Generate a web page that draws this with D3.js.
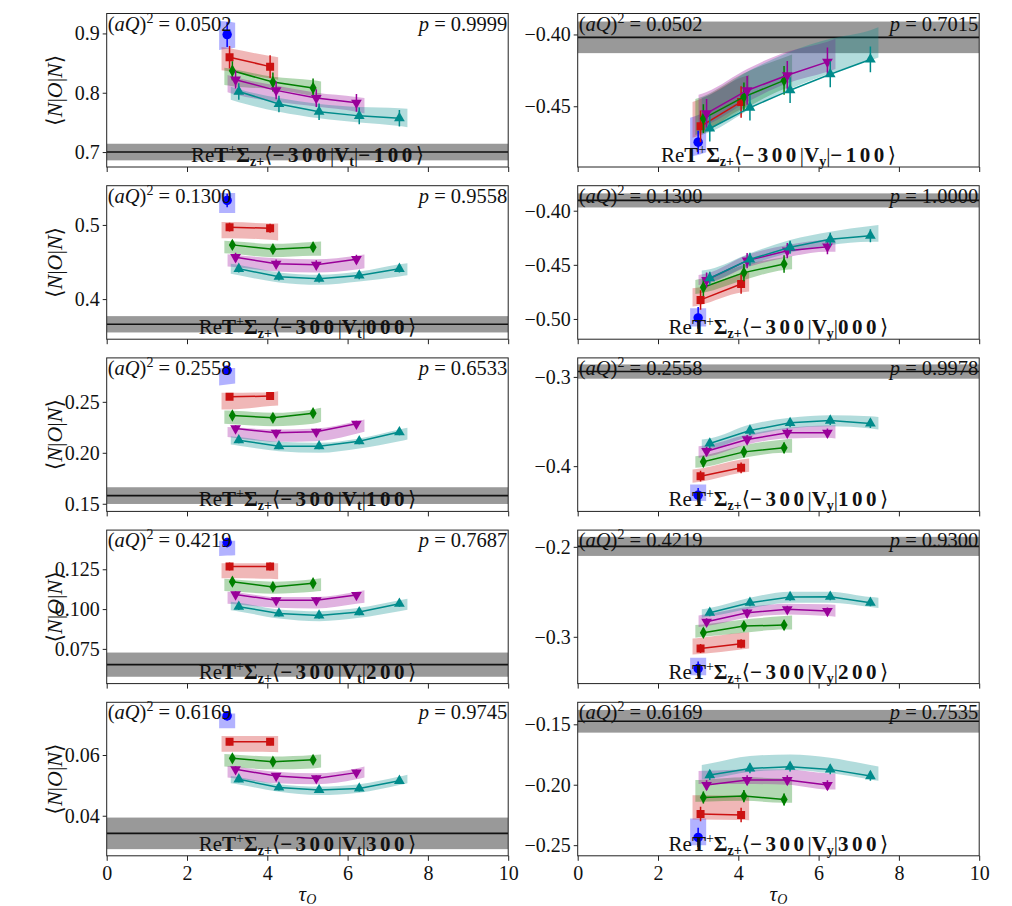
<!DOCTYPE html>
<html lang="en">
<head>
<meta charset="UTF-8">
<title>Matrix element fits</title>
<script src="https://cdn.jsdelivr.net/npm/d3@7"></script>
<style>
  body { margin: 0; background: #fff; }
  svg text { font-family: "Liberation Serif", "DejaVu Serif", serif; fill: #111; white-space: pre; }
</style>
</head>
<body>
<svg id="chart" width="1012" height="906"></svg>
<script>
// panels go row by row: left column is V_t, right column is V_y
const aQ2      = ['0.0502', '0.1300', '0.2558', '0.4219', '0.6169'];
const sinkMom  = ['\u2212100', '000', '100', '200', '300'];
const current  = ['t', 'y'];
const pValues  = ['0.9999', '0.7015', '0.9558', '1.0000', '0.6533', '0.9978', '0.7687', '0.9300', '0.9745', '0.7535'];

const yDomains = [[0.6748, 0.9336], [-0.4923, -0.3854], [0.3459, 0.5529], [-0.5187, -0.3769], [0.1425, 0.2931],
                  [-0.4507, -0.2787], [0.0532, 0.1496], [-0.352, -0.1814], [0.02681, 0.07736], [-0.2588, -0.1318]];
const yTicks   = [[0.7, 0.8, 0.9], [-0.45, -0.40], [0.4, 0.5], [-0.50, -0.45, -0.40], [0.15, 0.20, 0.25],
                  [-0.4, -0.3], [0.075, 0.100, 0.125], [-0.3, -0.2], [0.04, 0.06], [-0.25, -0.20, -0.15]];
const yFormats = ['.1f', '.2f', '.1f', '.2f', '.2f', '.1f', '.3f', '.1f', '.2f', '.2f'];
const xTicks   = [0, 2, 4, 6, 8, 10];

const refValue = [0.700, -0.402, 0.366, -0.3905, 0.158, -0.294, 0.0651, -0.1995, 0.0342, -0.1475];
const refErr   = [0.014, 0.011, 0.011, 0.0065, 0.0082, 0.008, 0.0076, 0.0106, 0.0052, 0.0094];

const tauBlue   = [3.0];
const tauRed    = [3.06, 4.07];
const tauGreen  = [3.13, 4.14, 5.14];
const tauPurple = [3.21, 4.22, 5.22, 6.22];
const tauTeal   = [3.29, 4.29, 5.29, 6.29, 7.29];

const blueY   = [[0.898], [-0.475], [0.533], [-0.499], [0.281], [-0.4325], [0.1418], [-0.3353], [0.0729], [-0.2436]];
const blueErr = [0.021, 0.008, 0.009, 0.010, 0.004, 0.008, 0.003, 0.008, 0.0015, 0.008];
const blueLo  = [[0.872, 0.874, 0.876], [-0.485, -0.484, -0.482], [0.516, 0.516, 0.516], [-0.507, -0.507, -0.507],
                 [0.266, 0.267, 0.268], [-0.439, -0.439, -0.439], [0.1334, 0.1336, 0.1338], [-0.3428, -0.3428, -0.3428],
                 [0.0688, 0.0688, 0.0688], [-0.250, -0.250, -0.250]];
const blueHi  = [[0.921, 0.920, 0.918], [-0.458, -0.456, -0.454], [0.543, 0.543, 0.543], [-0.490, -0.490, -0.490],
                 [0.2833, 0.2833, 0.2833], [-0.4205, -0.4205, -0.4205], [0.1429, 0.1429, 0.1429], [-0.3234, -0.3234, -0.3234],
                 [0.0737, 0.0737, 0.0737], [-0.228, -0.228, -0.228]];

const redY   = [[0.860, 0.844], [-0.464, -0.447], [0.497, 0.4955], [-0.4824, -0.4677], [0.2549, 0.2556],
                [-0.4112, -0.4019], [0.1267, 0.1267], [-0.313, -0.3078], [0.0644, 0.0644], [-0.2243, -0.2251]];
const redErr = [0.019, 0.011, 0.006, 0.009, 0.003, 0.006, 0.0025, 0.005, 0.0012, 0.006];
const redLo  = [[0.838, 0.836, 0.824, 0.822], [-0.472, -0.470, -0.452, -0.450], [0.482, 0.482, 0.480, 0.479],
                [-0.4886, -0.487, -0.4756, -0.4747], [0.2425, 0.2425, 0.2458, 0.2464], [-0.4187, -0.4176, -0.4075, -0.4063],
                [0.1193, 0.1193, 0.1190, 0.1188], [-0.3197, -0.319, -0.3141, -0.3130], [0.0611, 0.0611, 0.0610, 0.0609],
                [-0.2287, -0.2288, -0.2292, -0.2293]];
const redHi  = [[0.877, 0.875, 0.862, 0.860], [-0.447, -0.445, -0.430, -0.428], [0.504, 0.504, 0.502, 0.502],
                [-0.4716, -0.4707, -0.4578, -0.4563], [0.2588, 0.2588, 0.2595, 0.2605], [-0.4037, -0.4026, -0.3925, -0.3914],
                [0.1288, 0.1288, 0.1288, 0.1288], [-0.3019, -0.3010, -0.2955, -0.2948], [0.0663, 0.0663, 0.0663, 0.0663],
                [-0.2086, -0.2087, -0.2092, -0.2094]];

const greenY   = [[0.837, 0.818, 0.808], [-0.4586, -0.4435, -0.432], [0.4731, 0.4673, 0.470], [-0.4707, -0.4572, -0.4492],
                  [0.2366, 0.2343, 0.2389], [-0.3951, -0.3840, -0.3795], [0.1172, 0.1139, 0.1162], [-0.2955, -0.2881, -0.287],
                  [0.0589, 0.0578, 0.0584], [-0.2105, -0.2094, -0.2122]];
const greenErr = [0.016, 0.010, 0.006, 0.008, 0.003, 0.006, 0.002, 0.005, 0.0012, 0.005];
const greenLo  = [[0.813, 0.811, 0.806, 0.794, 0.791], [-0.470, -0.468, -0.452, -0.438, -0.436],
                  [0.4619, 0.461, 0.4565, 0.4583, 0.4583], [-0.4769, -0.4757, -0.464, -0.4547, -0.4541],
                  [0.2284, 0.2280, 0.2261, 0.2284, 0.2304], [-0.4019, -0.401, -0.3907, -0.3851, -0.3851],
                  [0.1113, 0.1110, 0.1097, 0.1109, 0.1113], [-0.3011, -0.3000, -0.2955, -0.2918, -0.2918],
                  [0.0562, 0.0560, 0.0553, 0.0556, 0.0559], [-0.2141, -0.2140, -0.2133, -0.2149, -0.2149]];
const greenHi  = [[0.842, 0.840, 0.827, 0.821, 0.819], [-0.445, -0.443, -0.427, -0.416, -0.414],
                  [0.4785, 0.478, 0.4745, 0.4770, 0.4776], [-0.464, -0.4625, -0.4501, -0.443, -0.4418],
                  [0.2415, 0.2413, 0.2392, 0.2425, 0.2441], [-0.3888, -0.3878, -0.3765, -0.3701, -0.3694],
                  [0.1191, 0.1188, 0.1172, 0.1187, 0.1193], [-0.287, -0.2862, -0.2807, -0.277, -0.2763],
                  [0.0603, 0.0602, 0.0595, 0.0600, 0.0602], [-0.1961, -0.1958, -0.1939, -0.1948, -0.1950]];

const purpleY   = [[0.822, 0.804, 0.791, 0.783], [-0.455, -0.439, -0.4284, -0.4191], [0.4565, 0.4475, 0.4462, 0.4538],
                   [-0.464, -0.4461, -0.4369, -0.4332], [0.2239, 0.2196, 0.2206, 0.2284], [-0.3832, -0.3701, -0.3627, -0.3627],
                   [0.1092, 0.1055, 0.1055, 0.1088], [-0.2833, -0.2732, -0.2695, -0.2714], [0.0553, 0.0531, 0.0523, 0.0542],
                   [-0.2003, -0.1961, -0.1961, -0.2003]];
const purpleErr = [0.015, 0.010, 0.006, 0.007, 0.003, 0.005, 0.002, 0.004, 0.001, 0.004];
const purpleLo  = [[0.801, 0.797, 0.785, 0.777, 0.768, 0.765], [-0.465, -0.463, -0.447, -0.434, -0.426, -0.424],
                   [0.4439, 0.4430, 0.4372, 0.4359, 0.4400, 0.4417], [-0.4686, -0.4675, -0.4523, -0.443, -0.4378, -0.4378],
                   [0.2154, 0.2145, 0.2108, 0.2114, 0.2186, 0.2206], [-0.3907, -0.3895, -0.3757, -0.369, -0.3683, -0.3690],
                   [0.1034, 0.1030, 0.1008, 0.1004, 0.1034, 0.1040], [-0.2892, -0.2880, -0.2788, -0.2751, -0.277, -0.2777],
                   [0.0526, 0.0523, 0.0507, 0.0504, 0.0520, 0.0526], [-0.1994, -0.1994, -0.1994, -0.2000, -0.2039, -0.2039]];
const purpleHi  = [[0.830, 0.826, 0.812, 0.800, 0.793, 0.791], [-0.442, -0.440, -0.424, -0.412, -0.405, -0.403],
                   [0.4606, 0.4595, 0.4552, 0.4538, 0.4585, 0.4601], [-0.4593, -0.458, -0.4409, -0.4317, -0.4264, -0.4255],
                   [0.2252, 0.2248, 0.2229, 0.2239, 0.2310, 0.2327], [-0.3776, -0.3765, -0.3646, -0.3571, -0.3545, -0.3542],
                   [0.1109, 0.1106, 0.1076, 0.1076, 0.1109, 0.1118], [-0.2762, -0.2750, -0.2669, -0.2632, -0.2639, -0.2645],
                   [0.0564, 0.0561, 0.0545, 0.0540, 0.0556, 0.0562], [-0.1887, -0.1885, -0.1873, -0.1873, -0.1906, -0.1910]];

const tealY   = [[0.802, 0.781, 0.768, 0.761, 0.757], [-0.4655, -0.4509, -0.4388, -0.4277, -0.4174],
                 [0.4408, 0.4301, 0.4274, 0.4318, 0.4408], [-0.4624, -0.4449, -0.4338, -0.4264, -0.4231],
                 [0.2124, 0.2065, 0.2065, 0.2114, 0.2203], [-0.3746, -0.3601, -0.3515, -0.3489, -0.3522],
                 [0.1015, 0.0973, 0.096, 0.0981, 0.1034], [-0.2732, -0.2621, -0.2558, -0.2554, -0.2621],
                 [0.052, 0.0493, 0.0485, 0.049, 0.0515], [-0.192, -0.1865, -0.1851, -0.1873, -0.1928]];
const tealErr = [0.014, 0.009, 0.005, 0.006, 0.003, 0.005, 0.002, 0.004, 0.001, 0.004];
const tealLo  = [[0.788, 0.784, 0.768, 0.757, 0.750, 0.744, 0.742], [-0.470, -0.468, -0.452, -0.438, -0.427, -0.418, -0.416],
                 [0.4341, 0.4320, 0.4225, 0.4192, 0.4238, 0.4305, 0.4320], [-0.4664, -0.4655, -0.4501, -0.4388, -0.4317, -0.4286, -0.4286],
                 [0.2082, 0.2070, 0.2016, 0.2000, 0.2042, 0.2114, 0.2131], [-0.3825, -0.3810, -0.3664, -0.3578, -0.3552, -0.3578, -0.3590],
                 [0.0992, 0.0985, 0.0941, 0.0924, 0.0945, 0.0987, 0.0996], [-0.2788, -0.2775, -0.2684, -0.2621, -0.2621, -0.2669, -0.2680],
                 [0.0507, 0.0503, 0.0479, 0.0468, 0.0476, 0.0501, 0.0507], [-0.1956, -0.1950, -0.1892, -0.1878, -0.1906, -0.1956, -0.1967]];
const tealHi  = [[0.810, 0.806, 0.791, 0.781, 0.776, 0.774, 0.773], [-0.444, -0.442, -0.425, -0.412, -0.403, -0.397, -0.395],
                 [0.4475, 0.4460, 0.4359, 0.4327, 0.4372, 0.4470, 0.4484], [-0.4553, -0.4540, -0.4394, -0.4271, -0.4194, -0.4141, -0.4132],
                 [0.2163, 0.2155, 0.2108, 0.2098, 0.2141, 0.2229, 0.2245], [-0.3701, -0.3690, -0.3534, -0.3459, -0.3429, -0.3440, -0.3450],
                 [0.1046, 0.1040, 0.0998, 0.0987, 0.1008, 0.1055, 0.1065], [-0.2695, -0.2680, -0.2565, -0.2498, -0.2498, -0.2558, -0.2565],
                 [0.0531, 0.0527, 0.0504, 0.0496, 0.0504, 0.0529, 0.0535], [-0.1837, -0.1825, -0.1762, -0.1749, -0.1776, -0.1837, -0.1850]];

const series = [
  { color: '#0000ff', tau: tauBlue,   y: blueY,   err: blueErr,   lo: blueLo,   hi: blueHi,   sym: d3.symbolCircle,   size: 70, rot: 0 },
  { color: '#cc1111', tau: tauRed,    y: redY,    err: redErr,    lo: redLo,    hi: redHi,    sym: d3.symbolSquare,   size: 64, rot: 0 },
  { color: '#007f00', tau: tauGreen,  y: greenY,  err: greenErr,  lo: greenLo,  hi: greenHi,  sym: d3.symbolDiamond,  size: 44, rot: 0 },
  { color: '#990099', tau: tauPurple, y: purpleY, err: purpleErr, lo: purpleLo, hi: purpleHi, sym: d3.symbolTriangle, size: 50, rot: 180 },
  { color: '#008b8b', tau: tauTeal,   y: tealY,   err: tealErr,   lo: tealLo,   hi: tealHi,   sym: d3.symbolTriangle, size: 50, rot: 0 }
];

const colX = [106.7, 577.7], plotW = 401.5, plotH = 153.5, top0 = 13.5, rowStep = 172.2;
const bandPad = 0.2;
const serif = '"Liberation Serif", "DejaVu Serif", serif';

const svg = d3.select('#chart');
const defs = svg.append('defs');

// text with bold / italic / raised / lowered pieces
function richText(sel, segs, sup = -8, sub = 5) {
  let shift = 0;
  segs.forEach(([txt, style, pos]) => {
    const target = pos === 'sup' ? sup : pos === 'sub' ? sub : 0;
    const t = sel.append('tspan').text(txt).attr('dy', target - shift);
    shift = target;
    if (style.includes('b')) t.attr('font-weight', 'bold');
    if (style.includes('i')) t.attr('font-style', 'italic');
    if (style.includes('s')) t.attr('letter-spacing', 3.5);
    if (pos) t.attr('font-size', 14);
  });
}

d3.range(10).forEach(i => {
  const row = Math.floor(i / 2), col = i % 2;
  const x0 = colX[col], y0 = top0 + row * rowStep;
  const x = d3.scaleLinear().domain([0, 10]).range([x0, x0 + plotW]);
  const y = d3.scaleLinear().domain(yDomains[i]).range([y0 + plotH, y0]);

  defs.append('clipPath').attr('id', 'clip' + i)
    .append('rect').attr('x', x0).attr('y', y0).attr('width', plotW).attr('height', plotH);

  const g = svg.append('g');
  const plot = g.append('g').attr('clip-path', `url(#clip${i})`);

  // continuum reference
  plot.append('rect')
      .attr('x', x0).attr('width', plotW)
      .attr('y', y(refValue[i] + refErr[i]))
      .attr('height', y(refValue[i] - refErr[i]) - y(refValue[i] + refErr[i]))
      .attr('fill', '#999');
  plot.append('line')
      .attr('x1', x0).attr('x2', x0 + plotW)
      .attr('y1', y(refValue[i])).attr('y2', y(refValue[i]))
      .attr('stroke', '#111').attr('stroke-width', 1.6);

  // fit bands
  const area = d3.area().x(d => x(d.t)).y0(d => y(d.lo)).y1(d => y(d.hi)).curve(d3.curveMonotoneX);
  series.forEach(s => {
    const nodes = [s.tau[0] - bandPad, ...s.tau, s.tau[s.tau.length - 1] + bandPad];
    const band = nodes.map((t, k) => ({ t, lo: s.lo[i][k], hi: s.hi[i][k] }));
    plot.append('path').datum(band).attr('d', area)
        .attr('fill', s.color).attr('fill-opacity', 0.3);
  });

  // data points
  const line = d3.line().x(d => x(d.t)).y(d => y(d.v));
  series.forEach(s => {
    const pts = s.tau.map((t, k) => ({ t, v: s.y[i][k], e: s.err[i] }));
    plot.append('path').datum(pts).attr('d', line)
        .attr('fill', 'none').attr('stroke', s.color).attr('stroke-width', 1.5);
    plot.selectAll(null).data(pts).join('line')
        .attr('x1', d => x(d.t)).attr('x2', d => x(d.t))
        .attr('y1', d => y(d.v - d.e)).attr('y2', d => y(d.v + d.e))
        .attr('stroke', s.color).attr('stroke-width', 1.5);
    plot.selectAll(null).data(pts).join('path')
        .attr('d', d3.symbol(s.sym, s.size))
        .attr('transform', d => `translate(${x(d.t)},${y(d.v)}) rotate(${s.rot})`)
        .attr('fill', s.color);
  });

  // frame and axes
  g.append('rect').attr('x', x0).attr('y', y0).attr('width', plotW).attr('height', plotH)
      .attr('fill', 'none').attr('stroke', '#222').attr('stroke-width', 1);

  const xAxis = d3.axisBottom(x).tickValues(xTicks).tickSize(5).tickPadding(5).tickSizeOuter(0);
  if (row < 4) xAxis.tickFormat('');
  g.append('g').attr('transform', `translate(0,${y0 + plotH})`).attr('color', '#222')
      .call(xAxis).call(a => a.select('.domain').remove())
      .attr('font-family', serif).attr('font-size', 20);

  const yAxis = d3.axisLeft(y).tickValues(yTicks[i]).tickFormat(d3.format(yFormats[i]))
      .tickSize(4).tickPadding(3).tickSizeOuter(0);
  g.append('g').attr('transform', `translate(${x0},0)`).attr('color', '#222')
      .call(yAxis).call(a => a.select('.domain').remove())
      .attr('font-family', serif).attr('font-size', 20);

  // annotations
  richText(g.append('text').attr('x', x0 + 1).attr('y', y0 + 17).attr('font-size', 20.5),
    [['(', ''], ['aQ', 'i'], [')', ''], ['2', '', 'sup'], [' = ' + aQ2[row], '']]);
  richText(g.append('text').attr('x', x0 + plotW - 1).attr('y', y0 + 17).attr('font-size', 20.5)
      .attr('text-anchor', 'end'),
    [['p', 'i'], [' = ' + pValues[i], '']]);
  richText(g.append('text').attr('x', x0 + plotW / 2).attr('y', y0 + plotH - 5).attr('font-size', 21)
      .attr('text-anchor', 'middle'),
    [['Re', ''], ['T', 'b'], ['+', '', 'sup'], ['\u03A3', 'b'], ['z+', 'b', 'sub'], ['\u27E8', ''],
     ['\u2212300', 'bs'], ['|', ''], ['V', 'b'], [current[col], 'b', 'sub'], ['|', ''],
     [sinkMom[row], 'bs'], ['\u27E9', '']], -8, 4);

  if (col === 0) {
    richText(g.append('text').attr('font-size', 22).attr('text-anchor', 'middle')
        .attr('transform', `translate(62,${y0 + plotH / 2}) rotate(-90)`),
      [['\u27E8', ''], ['N', 'i'], ['|', ''], ['O', 'i'], ['|', ''], ['N', 'i'], ['\u27E9', '']]);
  }
  if (row === 4) {
    richText(g.append('text').attr('x', x0 + plotW / 2).attr('y', 901).attr('font-size', 21)
        .attr('text-anchor', 'middle'),
      [['\u03C4', 'i'], ['O', 'i', 'sub']], -8, 3);
  }
});
</script>
</body>
</html>
